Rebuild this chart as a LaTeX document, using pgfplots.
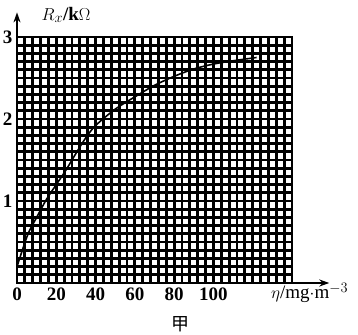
\documentclass[border=0pt]{standalone}
\usepackage{pgfplots}
\pgfplotsset{compat=1.18}
\usetikzlibrary{arrows.meta}
\usepackage{fontspec}
\setmainfont{Liberation Serif}
\newfontfamily\cjk{Noto Sans CJK SC}
\begin{document}
\begin{tikzpicture}
\path[use as bounding box] (-17pt,-51pt) rectangle (341pt,283pt);
% grid axis
\begin{axis}[
  x=1.964pt, y=82pt,
  xmin=0, xmax=140, ymin=0, ymax=3,
  scale only axis,
  xtick={0,4,8,12,16,20,24,28,32,36,40,44,48,52,56,60,64,68,72,76,80,84,88,92,96,100,104,108,112,116,120,124,128,132,136,140},
  ytick={0,0.1,0.2,0.3,0.4,0.5,0.6,0.7,0.8,0.9,1,1.1,1.2,1.3,1.4,1.5,1.6,1.7,1.8,1.9,2,2.1,2.2,2.3,2.4,2.5,2.6,2.7,2.8,2.9,3},
  xticklabels={}, yticklabels={},
  major tick length=0pt,
  grid=major,
  grid style={black, line width=2.9pt},
  axis line style={black, line width=2.9pt},
]
\end{axis}
% main axis
\begin{axis}[
  x=1.964pt, y=82pt,
  xmin=0, xmax=159, ymin=0, ymax=3.3,
  scale only axis,
  axis lines=left,
  axis line style={black, line width=2pt, -{Stealth[length=10pt,width=7pt]}},
  xtick={0,20,40,60,80,100},
  ytick={1,2,3},
  major tick length=0pt,
  tick label style={font=\bfseries\fontsize{19}{21}\selectfont},
  /pgf/number format/assume math mode=true,
  xticklabel style={yshift=-1pt},
  yticklabel style={xshift=-1pt},
  clip=false,
]
\addplot[black, line width=1.6pt, smooth] coordinates {
(0,0.2) (3,0.42) (6,0.62) (10,0.8) (15,1.02) (20,1.2) (25,1.38) (30,1.58) (35,1.77) (40,1.92) (50,2.12) (60,2.27) (70,2.41) (80,2.52) (90,2.61) (100,2.67) (110,2.71) (122,2.75)
};
\node[font=\fontsize{19}{21}\selectfont] at (axis cs:149,-0.12) {$\eta$/mg$\cdot$m$^{-3}$};
\node[font=\bfseries\fontsize{19}{21}\selectfont] at (axis cs:25,3.27) {$R_x$/k$\Omega$};
\node[font=\cjk\fontsize{18}{20}\selectfont] at (axis cs:83,-0.5) {甲};
\end{axis}
\end{tikzpicture}
\end{document}
